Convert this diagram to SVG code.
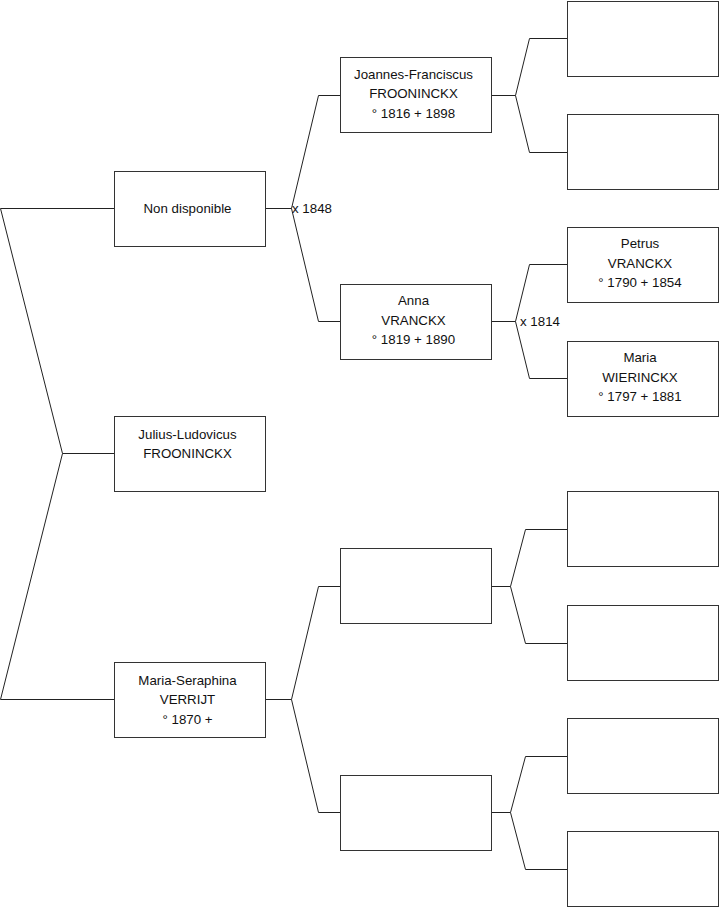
<svg xmlns="http://www.w3.org/2000/svg" width="719" height="908" viewBox="0 0 719 908">
<style>
.box{fill:#fff;stroke:#333;stroke-width:1}
.c{fill:none;stroke:#222;stroke-width:1}
text{font-family:"Liberation Sans",Arial,sans-serif;font-size:13.3px;fill:#111}
.t{text-anchor:middle}
</style>
<rect width="719" height="908" fill="#fff"/>
<g id="connectors">
<path class="c" d="M0.5,208.5H114.5M0.5,208.5L62.5,453.5H114.5M62.5,453.5L0.5,699.5H114.5"/>
<path class="c" d="M265,208.5H291.5L318.5,95.5H340.5M291.5,208.5L318.5,321.5H340.5"/>
<path class="c" d="M491,95.5H515.5L529.5,38.5H567.5M515.5,95.5L529.5,152.5H567.5"/>
<path class="c" d="M491,321.5H515.5L529.5,264.5H567.5M515.5,321.5L529.5,378.5H567.5"/>
<path class="c" d="M265,699.5H291.5L318.5,586.5H340.5M291.5,699.5L318.5,812.5H340.5"/>
<path class="c" d="M491,586.5H510.5L525.5,529.5H567.5M510.5,586.5L525.5,643.5H567.5"/>
<path class="c" d="M491,812.5H510.5L525.5,756.5H567.5M510.5,812.5L525.5,869.5H567.5"/>
<text x="292" y="212.5">x 1848</text>
<text x="520" y="325.5">x 1814</text>
</g>
<g id="n-nondisponible"><rect class="box" x="114.5" y="171.5" width="151" height="75"/><text class="t" x="187.5" y="212.5">Non disponible</text></g>
<g id="n-julius"><rect class="box" x="114.5" y="416.5" width="151" height="75"/><text class="t" x="187.5" y="438.5">Julius-Ludovicus</text><text class="t" x="187.5" y="458">FROONINCKX</text></g>
<g id="n-mariaseraphina"><rect class="box" x="114.5" y="662.5" width="151" height="75"/><text class="t" x="187.5" y="684.5">Maria-Seraphina</text><text class="t" x="187.5" y="704">VERRIJT</text><text class="t" x="187.5" y="723.5">° 1870 +</text></g>
<g id="n-joannes"><rect class="box" x="340.5" y="57.5" width="151" height="75"/><text class="t" x="413.5" y="78.5">Joannes-Franciscus</text><text class="t" x="413.5" y="98">FROONINCKX</text><text class="t" x="413.5" y="117.5">° 1816 + 1898</text></g>
<g id="n-anna"><rect class="box" x="340.5" y="284.5" width="151" height="75"/><text class="t" x="413.5" y="305">Anna</text><text class="t" x="413.5" y="324.5">VRANCKX</text><text class="t" x="413.5" y="344">° 1819 + 1890</text></g>
<g id="n-c2-3"><rect class="box" x="340.5" y="548.5" width="151" height="75"/></g>
<g id="n-c2-4"><rect class="box" x="340.5" y="775.5" width="151" height="75"/></g>
<g id="n-c3-1"><rect class="box" x="567.5" y="1.5" width="151" height="75"/></g>
<g id="n-c3-2"><rect class="box" x="567.5" y="114.5" width="151" height="75"/></g>
<g id="n-petrus"><rect class="box" x="567.5" y="227.5" width="151" height="75"/><text class="t" x="640" y="248">Petrus</text><text class="t" x="640" y="267.5">VRANCKX</text><text class="t" x="640" y="287">° 1790 + 1854</text></g>
<g id="n-maria"><rect class="box" x="567.5" y="341.5" width="151" height="75"/><text class="t" x="640" y="362">Maria</text><text class="t" x="640" y="381.5">WIERINCKX</text><text class="t" x="640" y="401">° 1797 + 1881</text></g>
<g id="n-c3-5"><rect class="box" x="567.5" y="491.5" width="151" height="75"/></g>
<g id="n-c3-6"><rect class="box" x="567.5" y="605.5" width="151" height="75"/></g>
<g id="n-c3-7"><rect class="box" x="567.5" y="718.5" width="151" height="75"/></g>
<g id="n-c3-8"><rect class="box" x="567.5" y="831.5" width="151" height="75"/></g>
</svg>
